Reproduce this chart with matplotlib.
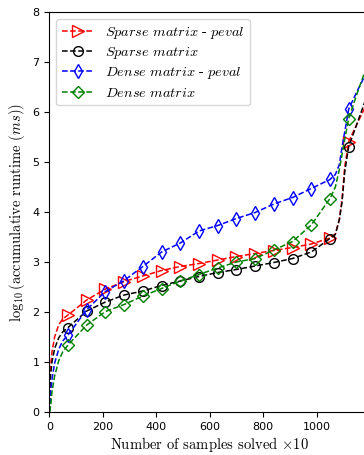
import matplotlib
matplotlib.use('Agg')
import matplotlib.pyplot as plt

plt.rcParams['mathtext.fontset'] = 'cm'

# x in units of 10 samples
x = [0, 2, 5, 10, 20, 35, 50, 70, 140, 210, 280, 350, 420, 490, 560, 630, 700,
     770, 840, 910, 980, 1050, 1070, 1085, 1095, 1105, 1120, 1150, 1180]

sparse_peval = [0, 0.55, 0.9, 1.2, 1.5, 1.74, 1.86,
                1.94, 2.24, 2.46, 2.61, 2.72, 2.83, 2.91, 2.97, 3.04, 3.11, 3.17, 3.23, 3.29, 3.36, 3.48,
                3.56, 3.85, 4.25, 4.9, 5.41, 5.75, 6.08]
sparse = [0, 0.45, 0.75, 1.0, 1.27, 1.48, 1.6,
          1.69, 2.02, 2.20, 2.34, 2.42, 2.53, 2.62, 2.71, 2.79, 2.85, 2.92, 2.99, 3.07, 3.20, 3.47,
          3.55, 3.85, 4.2, 4.8, 5.31, 5.75, 6.2]
dense_peval = [0, 0.15, 0.38, 0.65, 0.98, 1.25, 1.42,
               1.54, 2.05, 2.41, 2.63, 2.91, 3.20, 3.38, 3.62, 3.73, 3.87, 3.99, 4.16, 4.29, 4.47, 4.65,
               4.75, 4.95, 5.3, 5.6, 6.06, 6.4, 6.72]
dense = [0, 0.02, 0.12, 0.4, 0.72, 1.02, 1.2,
         1.34, 1.74, 2.01, 2.15, 2.32, 2.47, 2.62, 2.75, 2.88, 3.0, 3.07, 3.24, 3.41, 3.74, 4.27,
         4.5, 4.85, 5.15, 5.45, 5.87, 6.35, 6.8]

labels = [r'$Sparse\ matrix\ \text{-}\ peval$', r'$Sparse\ matrix$',
          r'$Dense\ matrix\ \text{-}\ peval$', r'$Dense\ matrix$']

# marker every 70
marks = [i for i, v in enumerate(x) if v > 0 and v % 70 == 0]

fig = plt.figure(figsize=(3.64, 4.55), dpi=100)
ax = fig.add_axes([49.3 / 364, 43 / 455, 320.8 / 364, 400 / 455])

styles = [('r', '>', 8), ('k', 'o', 7), ('b', 'd', 7.5), ('g', 'D', 6)]
for ys, lab, (c, m, ms) in zip([sparse_peval, sparse, dense_peval, dense], labels, styles):
    ax.plot(x, ys, '--', color=c, marker=m, markevery=marks, markersize=ms,
            fillstyle='none', linewidth=1.1, markeredgewidth=1.0, label=lab)

ax.set_xlim(0, 1200)
ax.set_ylim(0, 8)
ax.set_xticks([0, 200, 400, 600, 800, 1000])
ax.set_yticks(range(0, 9))
ax.tick_params(labelsize=8)
ax.spines['right'].set_visible(False)

ax.set_xlabel(r'Number of samples solved $\times$10', fontfamily='cmr10', fontsize=10.5, labelpad=2)
ax.set_ylabel(r'$\log_{10}$(accumulative runtime $(ms)$)', fontfamily='cmr10', fontsize=10.5, labelpad=4)

ax.legend(loc='upper left', fontsize=10.3, handlelength=2.2, labelspacing=0.3,
          borderaxespad=0.5)

fig.savefig('out.png', dpi=100)
